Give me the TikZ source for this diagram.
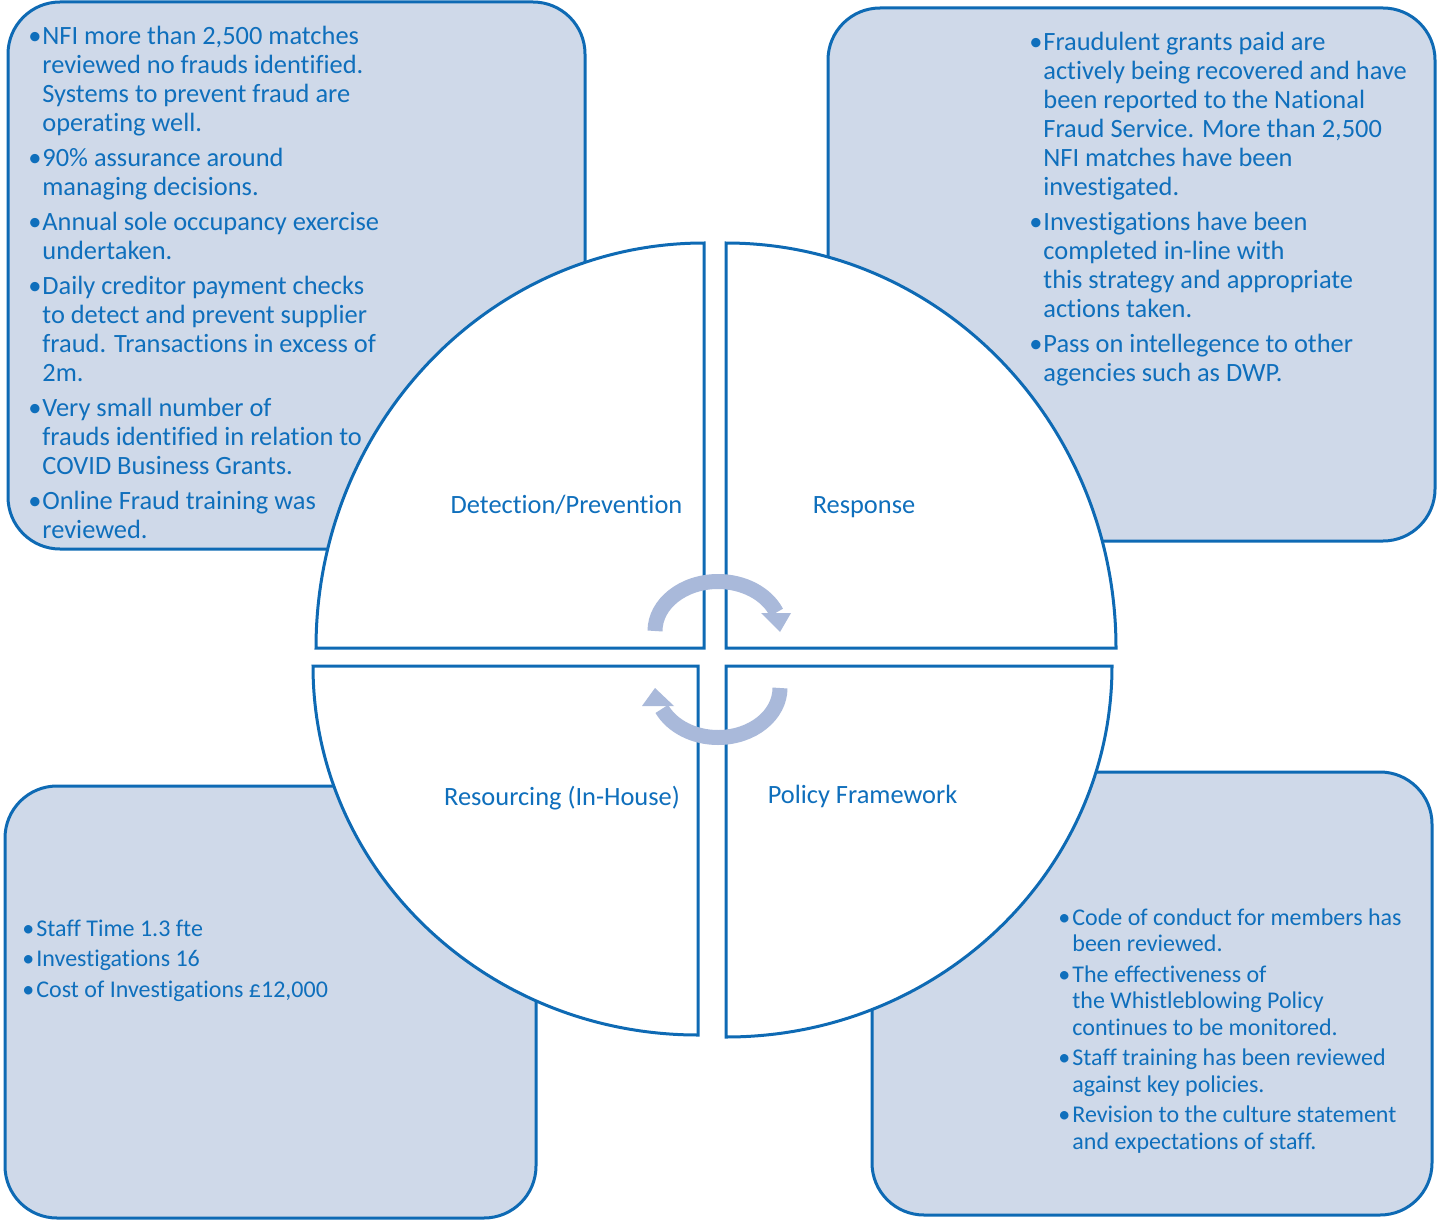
\documentclass[tikz,border=0pt]{standalone}
\usepackage{fontspec}
\setmainfont{Carlito}[Ligatures={NoCommon}]
\definecolor{lineblue}{HTML}{0E6AB4}
\definecolor{textblue}{HTML}{0F6FBC}
\definecolor{boxfill}{HTML}{CFD9E9}
\definecolor{arrowblue}{HTML}{A9B9DA}
\newcommand{\bl}{\makebox[7pt][l]{\textbullet}}

\begin{document}
\begin{tikzpicture}[x=0.5pt, y=-0.5pt,
    infobox/.style={draw=lineblue, fill=boxfill, line width=1.5pt, rounded corners=26pt},
    quadrant/.style={draw=lineblue, fill=white, line width=1.5pt},
    cyclearrow/.style={draw=arrowblue, line width=7.5pt},
    quadlabel/.style={anchor=base, inner sep=0, text=textblue, font=\fontsize{13.2}{14.5}\selectfont},
    bigtext/.style={anchor=base west, inner sep=0, text=textblue, font=\fontsize{13.2}{14.5}\selectfont},
    smalltext/.style={anchor=base west, inner sep=0, text=textblue, font=\fontsize{12}{13.25}\selectfont}]
  \useasboundingbox (0,0) rectangle (1440,1220);

  % outer boxes
  \draw[infobox] (8,2) rectangle (585,549);
  \draw[infobox] (828,8) rectangle (1435,541);
  \draw[infobox] (5,786) rectangle (536,1218);
  \draw[infobox] (872,772) rectangle (1432,1215);

  % quarters of the circle
  \draw[quadrant] (704,648) -- (316,648) arc[start angle=180, end angle=270, x radius=388, y radius=405] -- cycle;
  \draw[quadrant] (726,648) -- (726,243) arc[start angle=270, end angle=360, x radius=390, y radius=405] -- cycle;
  \draw[quadrant] (726,666) -- (1112,666) arc[start angle=0, end angle=90, x radius=386, y radius=371] -- cycle;
  \draw[quadrant] (698,666) -- (698,1035) arc[start angle=90, end angle=180, x radius=385, y radius=369] -- cycle;

  \node[quadlabel] (detect) at (566.5,513) {Detection/Prevention};
  \node[quadlabel] (respond) at (864,513) {Response};
  \node[quadlabel] (resource) at (562,805) {Resourcing (In-House)};
  \node[quadlabel] (policy) at (862.5,803) {Policy Framework};

  % cycle arrows
  \draw[cyclearrow] (655,631) arc[start angle=180, end angle=338, x radius=63, y radius=49.5];
  \fill[arrowblue] (761,613) -- (791,613) -- (780,632) -- cycle;
  \draw[cyclearrow] (780,688) arc[start angle=0, end angle=155, x radius=62, y radius=49.5];
  \fill[arrowblue] (642,706) -- (674,706) -- (655,688) -- cycle;

  \node[bigtext] (detecttext) at (28,45) {\begin{tabular}[t]{@{}l@{}l@{}}
    \bl & NFI more than 2,500 matches\\
        & reviewed no frauds identified.\\
        & Systems to prevent fraud are\\
        & operating well.\\[3pt]
    \bl & 90\% assurance around\\
        & managing decisions.\\[3pt]
    \bl & Annual sole occupancy exercise\\
        & undertaken.\\[3pt]
    \bl & Daily creditor payment checks\\
        & to detect and prevent supplier\\
        & fraud. Transactions in excess of\\
        & 2m.\\[3pt]
    \bl & Very small number of\\
        & frauds identified in relation to\\
        & COVID Business Grants.\\[3pt]
    \bl & Online Fraud training was\\
        & reviewed.
  \end{tabular}};

  \node[bigtext] (respondtext) at (1029,51) {\begin{tabular}[t]{@{}l@{}l@{}}
    \bl & Fraudulent grants paid are\\
        & actively being recovered and have\\
        & been reported to the National\\
        & Fraud Service. More than 2,500\\
        & NFI matches have been\\
        & investigated.\\[3pt]
    \bl & Investigations have been\\
        & completed in-line with\\
        & this strategy and appropriate\\
        & actions taken.\\[3pt]
    \bl & Pass on intellegence to other\\
        & agencies such as DWP.
  \end{tabular}};

  \node[smalltext, font=\fontsize{12}{15.25}\selectfont] (resourcetext) at (22,936) {\begin{tabular}[t]{@{}l@{}l@{}}
    \bl & Staff Time 1.3 fte\\
    \bl & Investigations 16\\
    \bl & Cost of Investigations £12,000
  \end{tabular}};

  \node[smalltext] (policytext) at (1058,925) {\begin{tabular}[t]{@{}l@{}l@{}}
    \bl & Code of conduct for members has\\
        & been reviewed.\\[2pt]
    \bl & The effectiveness of\\
        & the Whistleblowing Policy\\
        & continues to be monitored.\\[2pt]
    \bl & Staff training has been reviewed\\
        & against key policies.\\[2pt]
    \bl & Revision to the culture statement\\
        & and expectations of staff.
  \end{tabular}};
\end{tikzpicture}
\end{document}
